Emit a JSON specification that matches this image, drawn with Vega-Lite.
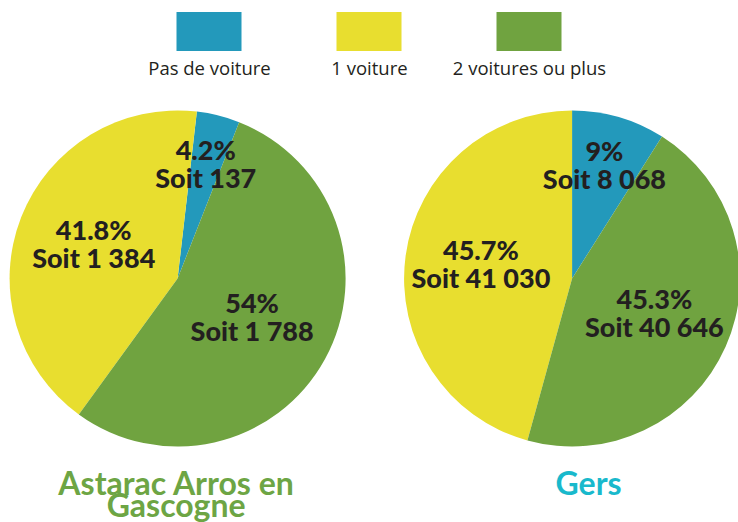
{
  "$schema": "https://vega.github.io/schema/vega-lite/v6.json",
  "padding": 0,
  "spacing": 28,
  "bounds": "flush",
  "center": true,
  "background": "white",
  "config": {"view": {"stroke": null}, "font": "Lato"},
  "datasets": {
    "legende": [
      {"categorie": "Pas de voiture"},
      {"categorie": "1 voiture"},
      {"categorie": "2 voitures ou plus"}
    ],
    "pie1": [
      {"zone": "Astarac Arros en Gascogne", "categorie": "Pas de voiture", "menages": 137, "part": 4.2, "etiquette": "4.2%\nSoit 137"},
      {"zone": "Astarac Arros en Gascogne", "categorie": "1 voiture", "menages": 1384, "part": 41.8, "etiquette": "41.8%\nSoit 1 384"},
      {"zone": "Astarac Arros en Gascogne", "categorie": "2 voitures ou plus", "menages": 1788, "part": 54, "etiquette": "54%\nSoit 1 788"}
    ],
    "pie2": [
      {"zone": "Gers", "categorie": "Pas de voiture", "menages": 8068, "part": 9, "etiquette": "9%\nSoit 8 068"},
      {"zone": "Gers", "categorie": "1 voiture", "menages": 41030, "part": 45.7, "etiquette": "45.7%\nSoit 41 030"},
      {"zone": "Gers", "categorie": "2 voitures ou plus", "menages": 40646, "part": 45.3, "etiquette": "45.3%\nSoit 40 646"}
    ]
  },
  "vconcat": [
    {
      "width": 640,
      "height": 63,
      "data": {"name": "legende"},
      "mark": {"type": "point", "filled": true, "opacity": 1, "shape": "M-1,-0.6H1V0.6H-1Z", "size": 4225, "strokeWidth": 0},
      "encoding": {
        "x": {
          "field": "categorie", "type": "nominal",
          "sort": ["Pas de voiture", "1 voiture", "2 voitures ou plus"],
          "scale": {"type": "point", "padding": 1},
          "axis": {"title": null, "domain": false, "ticks": false, "tickSize": 0, "labelAngle": 0, "labelFont": "Open Sans", "labelFontSize": 18.5, "labelColor": "#231f20", "labelPadding": 11, "labelBaseline": "alphabetic", "labelLimit": 0}
        },
        "color": {
          "field": "categorie", "type": "nominal",
          "scale": {"domain": ["Pas de voiture", "1 voiture", "2 voitures ou plus"], "range": ["#2399bb", "#e8de2f", "#70a340"]},
          "legend": null
        }
      }
    },
    {
      "width": 738,
      "height": 375,
      "layer": [
        {
          "data": {"name": "pie1"},
          "encoding": {
            "x": {
              "field": "zone", "type": "nominal",
              "scale": {"type": "point", "domain": ["Astarac Arros en Gascogne", "Gers"], "padding": 0.4354, "align": 0.517},
              "axis": {"title": null, "domain": false, "ticks": false, "tickSize": 0, "labelAngle": 0, "labelFont": "Lato", "labelFontSize": 32, "labelFontWeight": "bold", "labelLineHeight": 22, "labelPadding": 28, "labelBaseline": "alphabetic", "labelLimit": 0,
                "labelExpr": "datum.value == 'Astarac Arros en Gascogne' ? ['Astarac Arros en', 'Gascogne'] : datum.label",
                "labelColor": {"condition": {"test": "datum.value == 'Gers'", "value": "#19b9cc"}, "value": "#6da544"},
                "labelOffset": {"condition": {"test": "datum.value == 'Gers'", "value": 16}, "value": -2}}
            },
            "theta": {"field": "menages", "type": "quantitative", "stack": true, "scale": {"range": [0.115, 6.398]}},
            "detail": {"field": "categorie", "type": "nominal"},
            "order": {"field": "categorie", "type": "nominal", "sort": "descending"}
          },
          "layer": [
            {
              "mark": {"type": "arc", "outerRadius": 168, "clip": true},
              "encoding": {
                "color": {"field": "categorie", "type": "nominal", "scale": {"domain": ["Pas de voiture", "1 voiture", "2 voitures ou plus"], "range": ["#2399bb", "#e8de2f", "#70a340"]}, "legend": null}
              }
            },
            {
              "mark": {"type": "text", "lineBreak": "\n", "font": "Lato", "fontSize": 27, "fontWeight": 900, "lineHeight": 28, "color": "#231f20", "dy": -14,
                "radius": {"expr": "datum.categorie == 'Pas de voiture' ? 116 : datum.categorie == '2 voitures ou plus' ? 85 : 90"}},
              "encoding": {"text": {"field": "etiquette", "type": "nominal"}}
            }
          ]
        },
        {
          "data": {"name": "pie2"},
          "encoding": {
            "x": {
              "field": "zone", "type": "nominal",
              "scale": {"type": "point", "domain": ["Astarac Arros en Gascogne", "Gers"], "padding": 0.4354, "align": 0.517},
              "axis": {"title": null, "domain": false, "ticks": false, "tickSize": 0, "labelAngle": 0, "labelFont": "Lato", "labelFontSize": 32, "labelFontWeight": "bold", "labelLineHeight": 22, "labelPadding": 28, "labelBaseline": "alphabetic", "labelLimit": 0,
                "labelExpr": "datum.value == 'Astarac Arros en Gascogne' ? ['Astarac Arros en', 'Gascogne'] : datum.label",
                "labelColor": {"condition": {"test": "datum.value == 'Gers'", "value": "#19b9cc"}, "value": "#6da544"},
                "labelOffset": {"condition": {"test": "datum.value == 'Gers'", "value": 16}, "value": -2}}
            },
            "theta": {"field": "menages", "type": "quantitative", "stack": true},
            "detail": {"field": "categorie", "type": "nominal"},
            "order": {"field": "categorie", "type": "nominal", "sort": "descending"}
          },
          "layer": [
            {
              "mark": {"type": "arc", "outerRadius": 168, "clip": true},
              "encoding": {
                "color": {"field": "categorie", "type": "nominal", "scale": {"domain": ["Pas de voiture", "1 voiture", "2 voitures ou plus"], "range": ["#2399bb", "#e8de2f", "#70a340"]}, "legend": null}
              }
            },
            {
              "mark": {"type": "text", "lineBreak": "\n", "font": "Lato", "fontSize": 27, "fontWeight": 900, "lineHeight": 28, "color": "#231f20", "dy": -14,
                "radius": {"expr": "datum.categorie == 'Pas de voiture' ? 116 : datum.categorie == '2 voitures ou plus' ? 90 : 92"}},
              "encoding": {"text": {"field": "etiquette", "type": "nominal"}}
            }
          ]
        }
      ],
      "resolve": {"scale": {"theta": "independent"}}
    }
  ]
}
